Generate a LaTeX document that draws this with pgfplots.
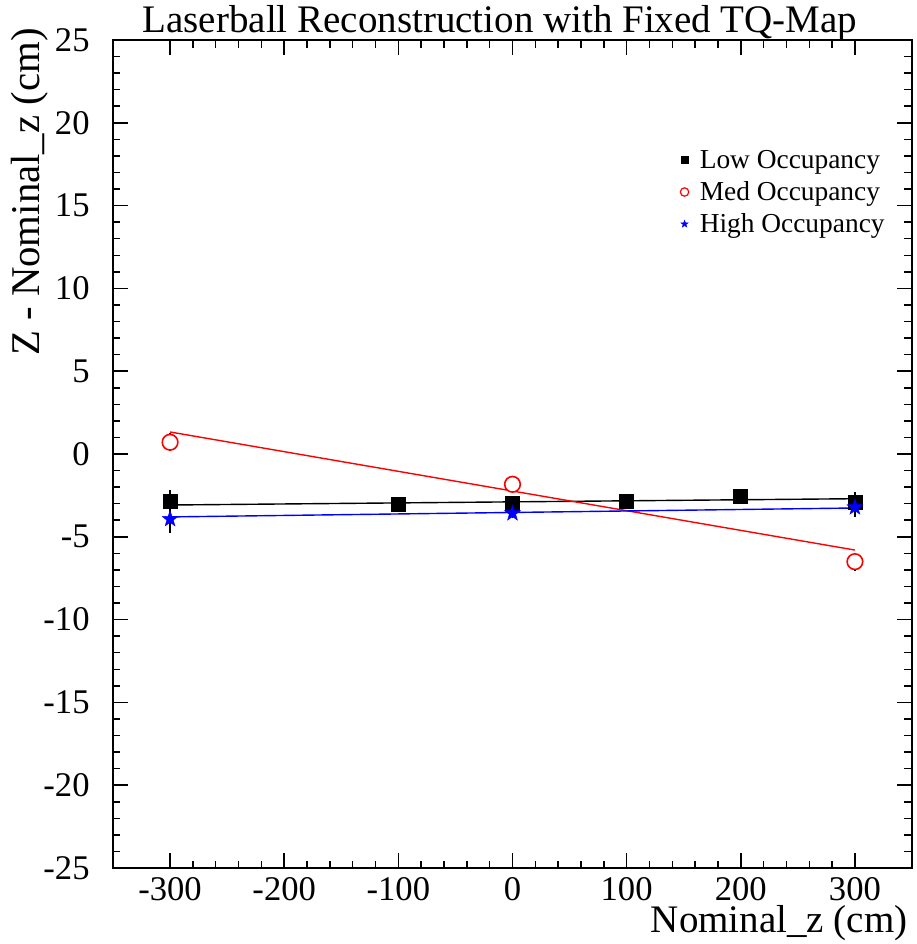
\documentclass[border=0pt]{standalone}
\usepackage{pgfplots}
\pgfplotsset{compat=1.18}
\usepackage{fontspec}
\setmainfont{Liberation Serif}
\pgfdeclareplotmark{fstar}{%
  \pgfpathmoveto{\pgfpointpolar{90}{\pgfplotmarksize}}%
  \pgfpathlineto{\pgfpointpolar{126}{0.4\pgfplotmarksize}}%
  \pgfpathlineto{\pgfpointpolar{162}{\pgfplotmarksize}}%
  \pgfpathlineto{\pgfpointpolar{198}{0.4\pgfplotmarksize}}%
  \pgfpathlineto{\pgfpointpolar{234}{\pgfplotmarksize}}%
  \pgfpathlineto{\pgfpointpolar{270}{0.4\pgfplotmarksize}}%
  \pgfpathlineto{\pgfpointpolar{306}{\pgfplotmarksize}}%
  \pgfpathlineto{\pgfpointpolar{342}{0.4\pgfplotmarksize}}%
  \pgfpathlineto{\pgfpointpolar{18}{\pgfplotmarksize}}%
  \pgfpathlineto{\pgfpointpolar{54}{0.4\pgfplotmarksize}}%
  \pgfpathclose
  \pgfusepathqfillstroke}
\begin{document}
\begin{tikzpicture}
\useasboundingbox (-56.5pt,-38pt) rectangle (402pt,434pt);
\begin{axis}[
  scale only axis, width=399.5pt, height=414pt,
  at={(0,0)}, anchor=south west,
  xmin=-350, xmax=350, ymin=-25, ymax=25,
  xtick={-300,-200,...,300}, ytick={-25,-20,...,25},
  minor x tick num=4, minor y tick num=4,
  tick align=inside, major tick length=7.5pt, minor tick length=3.75pt,
  axis line style={line width=1pt},
  every tick/.style={black, line width=0.75pt},
  /pgf/number format/assume math mode=true,
  xticklabel style={font=\fontsize{17.3}{17.3}\selectfont, inner sep=0pt, anchor=north, yshift=-4.5pt},
  yticklabel style={font=\fontsize{17.3}{17.3}\selectfont, inner sep=0pt, anchor=east, xshift=-11.5pt},
  legend style={at={(rel axis cs:0.7096,0.8164)}, anchor=west, draw=none, fill=none,
    font=\fontsize{13.7}{13.7}\selectfont, row sep=0pt, column sep=5.5pt, inner sep=0pt,
    nodes={inner sep=0pt, text height=12.2pt, text depth=3.8pt}},
  legend cell align=left,
  legend image code/.code={\draw[#1] plot coordinates {(0pt,0pt)};},
]
\addlegendimage{only marks, mark=square*, mark size=1.8pt, black}
\addlegendentry{Low Occupancy}
\addlegendimage{only marks, mark=o, mark size=2.1pt, red, mark options={line width=0.6pt}}
\addlegendentry{Med Occupancy}
\addlegendimage{only marks, mark=fstar, mark size=1.9pt, blue, mark options={fill=blue, line width=0.2pt}}
\addlegendentry{High Occupancy}

% Low occupancy
\addplot[forget plot, only marks, mark=square*, mark size=3.5pt, black,
  error bars/.cd, y dir=both, y explicit, error mark=none,
  error bar style={black, line width=0.75pt}]
  table[x=x, y=y, y error=e] {
x y e
-300 -2.88 0.70
-100 -3.02 0.30
0 -2.98 0.30
100 -2.84 0.30
200 -2.54 0.30
300 -2.92 0.60
};
% Med occupancy
\addplot[forget plot, only marks, mark=*, mark size=3.9pt, red,
  mark options={fill=white, draw=red, line width=0.8pt},
  error bars/.cd, y dir=both, y explicit, error mark=none,
  error bar style={black, line width=0.75pt}]
  table[x=x, y=y, y error=e] {
x y e
-300 0.71 0.55
0 -1.83 0.30
300 -6.50 0.55
};
% High occupancy
\addplot[forget plot, only marks, mark=fstar, mark size=4.2pt, blue,
  mark options={fill=blue, line width=0.2pt},
  error bars/.cd, y dir=both, y explicit, error mark=none,
  error bar style={black, line width=0.75pt}]
  table[x=x, y=y, y error=e] {
x y e
-300 -3.93 0.85
0 -3.58 0.30
300 -3.22 0.60
};
% fit lines
\addplot[forget plot, black, line width=0.7pt] coordinates {(-300,-3.08) (300,-2.70)};
\addplot[forget plot, red, line width=0.7pt] coordinates {(-300,1.33) (300,-5.80)};
\addplot[forget plot, blue, line width=0.7pt] coordinates {(-300,-3.80) (300,-3.26)};
\end{axis}
\node[anchor=base, inner sep=0pt, font=\fontsize{19.5}{19.5}\selectfont] at (193.5pt,417.5pt) {Laserball Reconstruction with Fixed TQ-Map};
\node[anchor=base east, inner sep=0pt, font=\fontsize{19.5}{19.5}\selectfont] at (397.5pt,-32pt) {Nominal\_z (cm)};
\node[rotate=90, anchor=base east, inner sep=0pt, font=\fontsize{20.4}{20.4}\selectfont] at (-36.5pt,420pt) {Z - Nominal\_z (cm)};
\end{tikzpicture}
\end{document}
